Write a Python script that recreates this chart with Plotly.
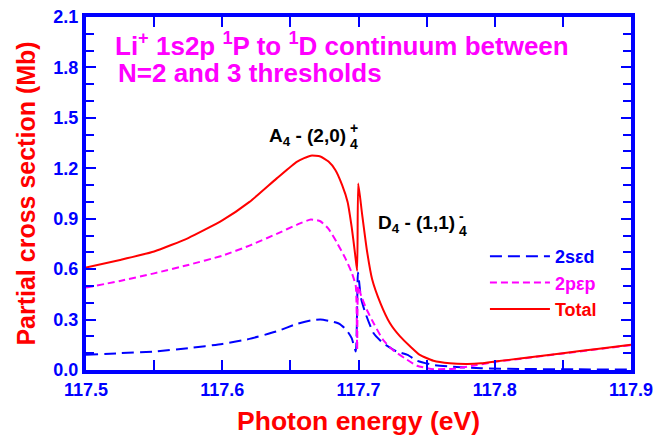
import plotly.graph_objects as go

# Partial photoionization cross sections (Mb) vs photon energy (eV)
e_sd = [117.5, 117.525, 117.55, 117.575, 117.6, 117.62, 117.64, 117.655, 117.665, 117.672,
        117.68, 117.686, 117.691, 117.695, 117.698, 117.6996, 117.7018, 117.705, 117.711,
        117.718, 117.728, 117.736, 117.743, 117.755, 117.772, 117.79, 117.82, 117.86, 117.9]
sig_sd = [0.09, 0.10, 0.11, 0.13, 0.155, 0.185, 0.23, 0.275, 0.295, 0.30,
          0.29, 0.275, 0.24, 0.19, 0.11, 0.58, 0.43, 0.34, 0.22,
          0.16, 0.11, 0.09, 0.055, 0.03, 0.018, 0.01, 0.006, 0.004, 0.003]

e_pp = [117.5, 117.525, 117.55, 117.575, 117.6, 117.62, 117.64, 117.655, 117.665, 117.672,
        117.678, 117.684, 117.69, 117.695, 117.698, 117.699, 117.6998, 117.702, 117.706,
        117.711, 117.718, 117.725, 117.734, 117.743, 117.755, 117.77, 117.787, 117.8,
        117.82, 117.85, 117.875, 117.9]
sig_pp = [0.49, 0.53, 0.575, 0.625, 0.68, 0.74, 0.81, 0.865, 0.895, 0.885,
          0.84, 0.76, 0.67, 0.58, 0.50, 0.12, 0.50, 0.44, 0.36,
          0.28, 0.18, 0.12, 0.07, 0.025, 0.005, 0.008, 0.03, 0.048,
          0.068, 0.098, 0.123, 0.148]

e_tot = [117.5, 117.525, 117.55, 117.575, 117.6, 117.62, 117.64, 117.655, 117.665, 117.672,
         117.678, 117.683, 117.688, 117.692, 117.695, 117.6975, 117.699, 117.6998, 117.7026,
         117.7062, 117.71, 117.716, 117.723, 117.7305, 117.738, 117.745, 117.755, 117.767,
         117.78, 117.79, 117.8, 117.82, 117.85, 117.875, 117.9]
sig_tot = [0.61, 0.655, 0.705, 0.785, 0.89, 1.00, 1.14, 1.24, 1.275, 1.27,
           1.24, 1.19, 1.10, 1.00, 0.85, 0.69, 0.59, 1.11, 0.93,
           0.71, 0.54, 0.40, 0.28, 0.20, 0.14, 0.09, 0.055, 0.04,
           0.036, 0.04, 0.05, 0.07, 0.10, 0.125, 0.15]

x_ticks = [117.5, 117.6, 117.7, 117.8, 117.9]
y_ticks = [0.0, 0.3, 0.6, 0.9, 1.2, 1.5, 1.8, 2.1]

BLUE = "#0000ff"
RED = "#ff0000"
MAGENTA = "#ff00ff"
FONT = "Liberation Sans"


def bold_font(size, color):
    return dict(family=FONT, size=size, color=color, weight="bold")


fig = go.Figure()
fig.add_trace(go.Scatter(x=e_sd, y=sig_sd, mode="lines",
                         name=f"<b><span style='color:{BLUE}'>2sεd</span></b>",
                         line=dict(color=BLUE, width=2, dash="12px,6px",
                                   shape="spline", smoothing=0.5)))
fig.add_trace(go.Scatter(x=e_pp, y=sig_pp, mode="lines",
                         name=f"<b><span style='color:{MAGENTA}'>2pεp</span></b>",
                         line=dict(color=MAGENTA, width=2, dash="7px,4px",
                                   shape="spline", smoothing=0.5)))
fig.add_trace(go.Scatter(x=e_tot, y=sig_tot, mode="lines",
                         name=f"<b><span style='color:{RED}'>Total</span></b>",
                         line=dict(color=RED, width=2, shape="spline", smoothing=0.5)))

axis_common = dict(showline=True, linecolor=BLUE, linewidth=4, mirror="allticks",
                   ticks="inside", tickcolor=BLUE, tickwidth=2, ticklen=10,
                   showgrid=False, zeroline=False, automargin=False,
                   tickfont=bold_font(18, BLUE))

fig.update_xaxes(range=[117.5, 117.9], tickvals=x_ticks,
                 ticktext=[f"{v:.1f}" for v in x_ticks],
                 minor=dict(dtick=0.05, ticks="inside", ticklen=10, tickcolor=BLUE, tickwidth=2),
                 title=dict(text="<b>Photon energy (eV)</b>", standoff=14,
                            font=bold_font(26.5, RED)),
                 **axis_common)
fig.update_yaxes(range=[0, 2.1], tickvals=y_ticks,
                 ticktext=[f"{v:.1f}" for v in y_ticks],
                 minor=dict(dtick=0.1, ticks="inside", ticklen=8, tickcolor=BLUE, tickwidth=2),
                 title=dict(text="<b>Partial cross section (Mb)</b>", standoff=12,
                            font=bold_font(25, RED)),
                 **axis_common)

label_font = bold_font(19, "black")
script_font = bold_font(14, "black")
title_font = bold_font(26, MAGENTA)
annotations = [
    dict(text="<b>Li<sup>+</sup> 1s2p <sup>1</sup>P to <sup>1</sup>D continuum between</b>",
         xref="paper", yref="paper", x=0.05, y=0.922, xanchor="left", yanchor="middle",
         align="left", showarrow=False, font=title_font),
    dict(text="<b>N=2 and 3 thresholds</b>",
         xref="paper", yref="paper", x=0.055, y=0.84, xanchor="left", yanchor="middle",
         align="left", showarrow=False, font=title_font),
    dict(text="<b>A<sub>4</sub> - (2,0)</b>", xref="x", yref="y", x=117.6925, y=1.386,
         xanchor="right", yanchor="middle", showarrow=False, font=label_font),
    dict(text="<b>+</b>", xref="x", yref="y", x=117.6925, y=1.44, xanchor="left",
         yanchor="middle", showarrow=False, font=script_font),
    dict(text="<b>4</b>", xref="x", yref="y", x=117.6925, y=1.345, xanchor="left",
         yanchor="middle", showarrow=False, font=script_font),
    dict(text="<b>D<sub>4</sub> - (1,1)</b>", xref="x", yref="y", x=117.7725, y=0.87,
         xanchor="right", yanchor="middle", showarrow=False, font=label_font),
    dict(text="<b>-</b>", xref="x", yref="y", x=117.7725, y=0.915, xanchor="left",
         yanchor="middle", showarrow=False, font=script_font),
    dict(text="<b>4</b>", xref="x", yref="y", x=117.7725, y=0.825, xanchor="left",
         yanchor="middle", showarrow=False, font=script_font),
]

fig.update_layout(
    width=654, height=443,
    margin=dict(l=86, r=23, t=17, b=73),
    paper_bgcolor="white", plot_bgcolor="white",
    annotations=annotations,
    legend=dict(x=0.732, y=0.374, xanchor="left", yanchor="top", itemwidth=60,
                bgcolor="rgba(0,0,0,0)", borderwidth=0, tracegroupgap=0,
                font=bold_font(18, "black")),
)

fig.write_html("out.html")
